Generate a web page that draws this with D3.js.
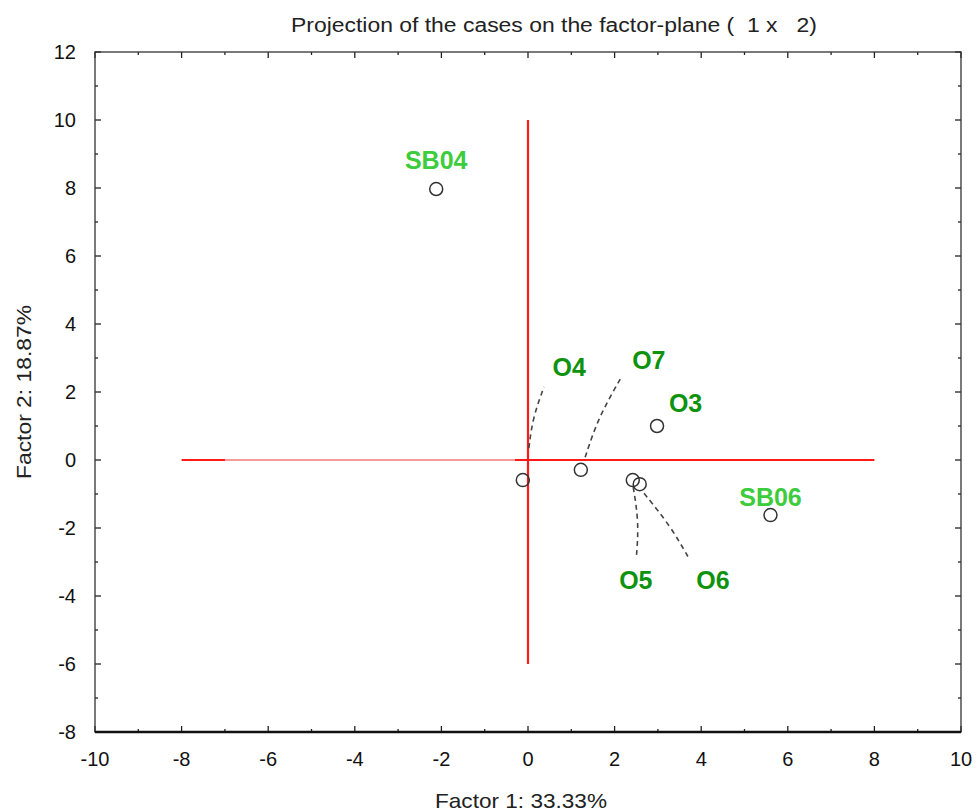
<!DOCTYPE html>
<html>
<head>
<meta charset="utf-8">
<script src="https://cdn.jsdelivr.net/npm/d3@7"></script>
<style>
  body { margin: 0; background: #fff; }
  text { font-family: "Liberation Sans", Arial, sans-serif; }
  .pt-label { font-weight: bold; }
</style>
</head>
<body>
<div id="chart-area"></div>
<script>
// cases projected on factor plane 1 x 2
var caseNames = ["SB04", "O3", "O7", "O4", "O5", "O6", "SB06"];
var factor1   = [-2.12, 2.98, 1.22, -0.12, 2.42, 2.58, 5.6];
var factor2   = [7.97, 1.0, -0.29, -0.59, -0.59, -0.71, -1.62];
// label anchor positions (data units)
var labelX    = [-2.12, 3.64, 2.79, 0.95, 2.49, 4.27, 5.6];
var labelY    = [8.82, 1.68, 2.94, 2.74, -3.53, -3.53, -1.09];
var labelKind = ["sb", "o", "o", "o", "o", "o", "sb"];
// leader lines: start and end in data units
var leaders = [
    { name: "O4", x1: 0.02, y1: 0.35, x2: 0.37, y2: 2.15 },
    { name: "O7", x1: 1.32, y1: 0.08, x2: 2.13, y2: 2.38 },
    { name: "O5", x1: 2.43, y1: -0.8, x2: 2.5, y2: -2.9 },
    { name: "O6", x1: 2.68, y1: -0.98, x2: 3.72, y2: -2.9 }
];
var xTicks = [-10, -8, -6, -4, -2, 0, 2, 4, 6, 8, 10];
var yTicks = [-8, -6, -4, -2, 0, 2, 4, 6, 8, 10, 12];

var margin = { left: 95, right: 16, top: 52, bottom: 80 };
var width = 977 - margin.left - margin.right;
var height = 812 - margin.top - margin.bottom;

var svg = d3.select("#chart-area").append("svg")
    .attr("width", 977).attr("height", 812)
  .append("g")
    .attr("transform", "translate(" + margin.left + "," + margin.top + ")");

var x = d3.scaleLinear().domain([-10, 10]).range([0, width]);
var y = d3.scaleLinear().domain([-8, 12]).range([height, 0]);

// title
svg.append("text")
    .attr("x", width / 2 + 26).attr("y", -20)
    .attr("text-anchor", "middle")
    .attr("textLength", 526)
    .attr("lengthAdjust", "spacingAndGlyphs")
    .style("white-space", "pre")
    .style("font-size", "20px")
    .style("fill", "#222")
    .text("Projection of the cases on the factor-plane (  1 x   2)");

// ticks on four sides, inward
var minorX = d3.range(-10, 10.01, 1);
var minorY = d3.range(-8, 12.01, 1);
function tickLen(v){ return v % 2 === 0 ? 6 : 3; }

var ticks = svg.append("g").attr("stroke", "#222").attr("stroke-width", 1.3);
minorX.forEach(function(v){
    ticks.append("line").attr("x1", x(v)).attr("x2", x(v)).attr("y1", height).attr("y2", height - tickLen(v));
    ticks.append("line").attr("x1", x(v)).attr("x2", x(v)).attr("y1", 0).attr("y2", tickLen(v));
});
minorY.forEach(function(v){
    ticks.append("line").attr("y1", y(v)).attr("y2", y(v)).attr("x1", 0).attr("x2", tickLen(v));
    ticks.append("line").attr("y1", y(v)).attr("y2", y(v)).attr("x1", width).attr("x2", width - tickLen(v));
});

// frame
svg.append("rect")
    .attr("x", 0).attr("y", 0).attr("width", width).attr("height", height)
    .attr("fill", "none").attr("stroke", "#333").attr("stroke-width", 1.3);
svg.append("line")
    .attr("x1", 0).attr("x2", width).attr("y1", height).attr("y2", height)
    .attr("stroke", "#111").attr("stroke-width", 2.5);

// tick labels
svg.selectAll(".xtick").data(xTicks).enter().append("text")
    .attr("class", "xtick")
    .attr("x", function(d){ return x(d); })
    .attr("y", height + 34)
    .attr("text-anchor", "middle")
    .style("font-size", "20px").style("fill", "#111")
    .text(function(d){ return d; });

svg.selectAll(".ytick").data(yTicks).enter().append("text")
    .attr("class", "ytick")
    .attr("x", -19)
    .attr("y", function(d){ return y(d); })
    .attr("dy", "0.35em")
    .attr("text-anchor", "end")
    .style("font-size", "20px").style("fill", "#111")
    .text(function(d){ return d; });

// axis titles
svg.append("text")
    .attr("x", width / 2 - 7).attr("y", height + 76)
    .attr("text-anchor", "middle")
    .attr("textLength", 172)
    .attr("lengthAdjust", "spacingAndGlyphs")
    .style("font-size", "21px").style("fill", "#222")
    .text("Factor 1: 33.33%");

svg.append("text")
    .attr("transform", "translate(" + (-64) + "," + (y(2) - 0) + ") rotate(-90)")
    .attr("text-anchor", "middle")
    .attr("textLength", 174)
    .attr("lengthAdjust", "spacingAndGlyphs")
    .style("font-size", "21px").style("fill", "#222")
    .text("Factor 2: 18.87%");

// red reference lines through origin
svg.append("line")
    .attr("x1", x(-8)).attr("x2", x(8)).attr("y1", y(0)).attr("y2", y(0))
    .attr("stroke", "#ff1a1a").attr("stroke-width", 2.2);
svg.append("line")
    .attr("x1", x(-7)).attr("x2", x(-0.3)).attr("y1", y(0)).attr("y2", y(0))
    .attr("stroke", "#f49a9a").attr("stroke-width", 2.2);
svg.append("line")
    .attr("x1", x(0)).attr("x2", x(0)).attr("y1", y(10)).attr("y2", y(-6))
    .attr("stroke", "#ff1a1a").attr("stroke-width", 2.2);

// leader lines (slightly curved)
var curve = d3.line().curve(d3.curveBasis);
svg.selectAll(".leader").data(leaders).enter().append("path")
    .attr("class", "leader")
    .attr("d", function(d){
        var p1 = [x(d.x1), y(d.y1)], p2 = [x(d.x2), y(d.y2)];
        var mid = [(p1[0] + p2[0]) / 2 + (p2[1] - p1[1]) * 0.06, (p1[1] + p2[1]) / 2];
        return curve([p1, mid, p2]);
    })
    .attr("fill", "none")
    .attr("stroke", "#444")
    .attr("stroke-width", 1.6)
    .attr("stroke-dasharray", "5,4");

// points
var idx = d3.range(caseNames.length);
svg.selectAll(".pt").data(idx).enter().append("circle")
    .attr("class", "pt")
    .attr("cx", function(i){ return x(factor1[i]); })
    .attr("cy", function(i){ return y(factor2[i]); })
    .attr("r", 6.5)
    .attr("fill", "none")
    .attr("stroke", "#333")
    .attr("stroke-width", 1.5);

// labels
svg.selectAll(".pt-label").data(idx).enter().append("text")
    .attr("class", "pt-label")
    .attr("x", function(i){ return x(labelX[i]); })
    .attr("y", function(i){ return y(labelY[i]); })
    .attr("dy", "0.35em")
    .attr("text-anchor", "middle")
    .style("font-size", "25px")
    .style("fill", function(i){ return labelKind[i] === "sb" ? "#3ccc3c" : "#0f930f"; })
    .text(function(i){ return caseNames[i]; });
</script>
</body>
</html>
